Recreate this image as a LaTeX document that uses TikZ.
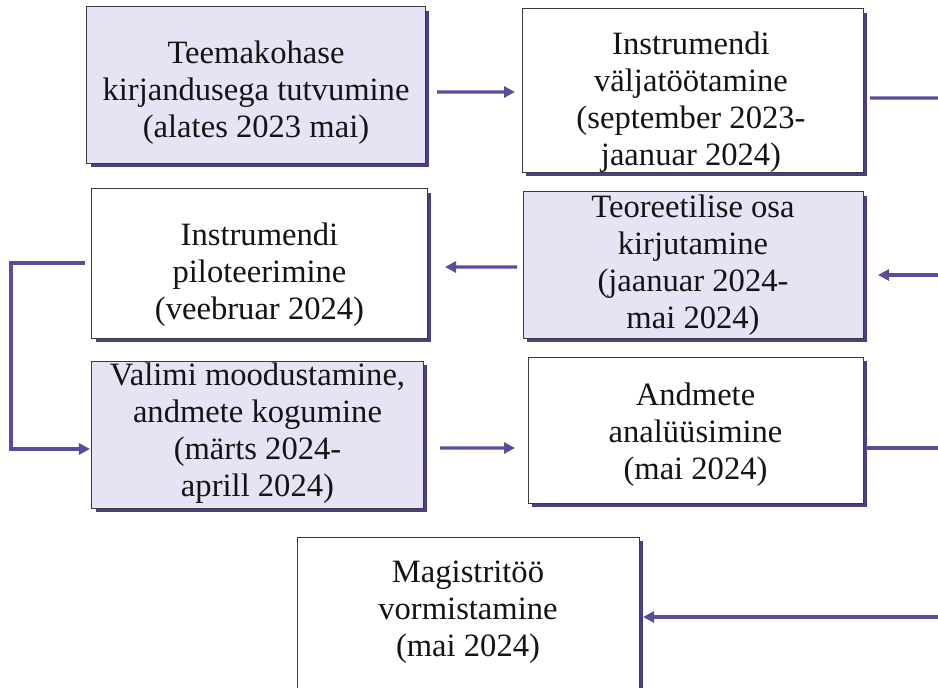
\documentclass[tikz,border=0pt]{standalone}
\usepackage{fontspec}
\setmainfont{Liberation Serif}
\usetikzlibrary{arrows.meta,calc,shadows}
\definecolor{lav}{HTML}{E6E3F5}
\definecolor{conn}{HTML}{5A4E9A}
\definecolor{shad}{HTML}{4B3F88}
\definecolor{ink}{HTML}{141414}
\definecolor{edge}{HTML}{3A3A3A}
\tikzset{
  box/.style={draw=edge, line width=1bp, rectangle, inner sep=0pt, outer sep=0pt,
    drop shadow={shadow xshift=4bp, shadow yshift=-4bp, fill=shad, opacity=1}},
  txt/.style={anchor=north, inner sep=0pt, align=center, text=ink,
    font=\fontsize{32.6bp}{36.8bp}\selectfont},
  conline/.style={draw=conn, line width=3.2bp},
  arr/.style={conline, -{Triangle[length=11bp,width=11bp]}}
}
\begin{document}
\begin{tikzpicture}[x=1bp,y=-1bp]
\useasboundingbox (0,0) rectangle (938,688);
\clip (0,0) rectangle (938,688);
\fill[white] (0,0) rectangle (938,688);
% boxes
\node[box, fill=lav, minimum width=338bp, minimum height=156bp] (b1) at (256,85) {};
\node[box, fill=white, minimum width=341bp, minimum height=163bp] (b2) at (692.5,90.5) {};
\node[box, fill=white, minimum width=335bp, minimum height=149bp] (b3) at (259.5,263.5) {};
\node[box, fill=lav, minimum width=340bp, minimum height=146bp] (b4) at (693,265) {};
\node[box, fill=lav, minimum width=331bp, minimum height=147bp] (b5) at (257.5,434.5) {};
\node[box, fill=white, minimum width=335bp, minimum height=146bp] (b6) at (695.5,430) {};
\node[box, fill=white, minimum width=342bp, minimum height=163bp] (b7) at (468,618.5) {};
% texts
\node[txt] (t1) at (256,41) {Teemakohase\\kirjandusega tutvumine\\(alates 2023 mai)};
\node[txt] (t2) at (691,32) {Instrumendi\\väljatöötamine\\(september 2023-\\jaanuar 2024)};
\node[txt] (t3) at (259.5,223) {Instrumendi\\piloteerimine\\(veebruar 2024)};
\node[txt] (t4) at (693,195) {Teoreetilise osa\\kirjutamine\\(jaanuar 2024-\\mai 2024)};
\node[txt] (t5) at (257.5,363) {Valimi moodustamine,\\andmete kogumine\\(märts 2024-\\aprill 2024)};
\node[txt] (t6) at (695.5,383) {Andmete\\analüüsimine\\(mai 2024)};
\node[txt] (t7) at (468,561) {Magistritöö\\vormistamine\\(mai 2024)};
% free ends at right edge
\coordinate (r1) at (942,98);
\coordinate (r2) at (942,275);
\coordinate (r3) at (942,448);
\coordinate (r4) at (942,617);
% connectors
\draw[arr] ($(b1.east)+(12,7)$) -- ($(b2.west)+(-7,1.5)$);
\draw[arr] ($(b4.west)+(-6,2)$) -- ($(b3.east)+(18,3.5)$);
\draw[arr] ($(b3.west)+(-7,-0.5)$) -- ++(-74,0) |- ($(b5.west)+(-2,14.5)$);
\draw[arr] ($(b5.east)+(17,13.5)$) -- ($(b6.west)+(-13,18)$);
\draw[conline] ($(b2.east)+(7,7.5)$) -- (r1);
\draw[arr] (r2) -- ($(b4.east)+(15,10)$);
\draw[conline] ($(b6.east)+(3,18)$) -- (r3);
\draw[arr] (r4) -- ($(b7.east)+(4,-1.5)$);
\end{tikzpicture}
\end{document}
